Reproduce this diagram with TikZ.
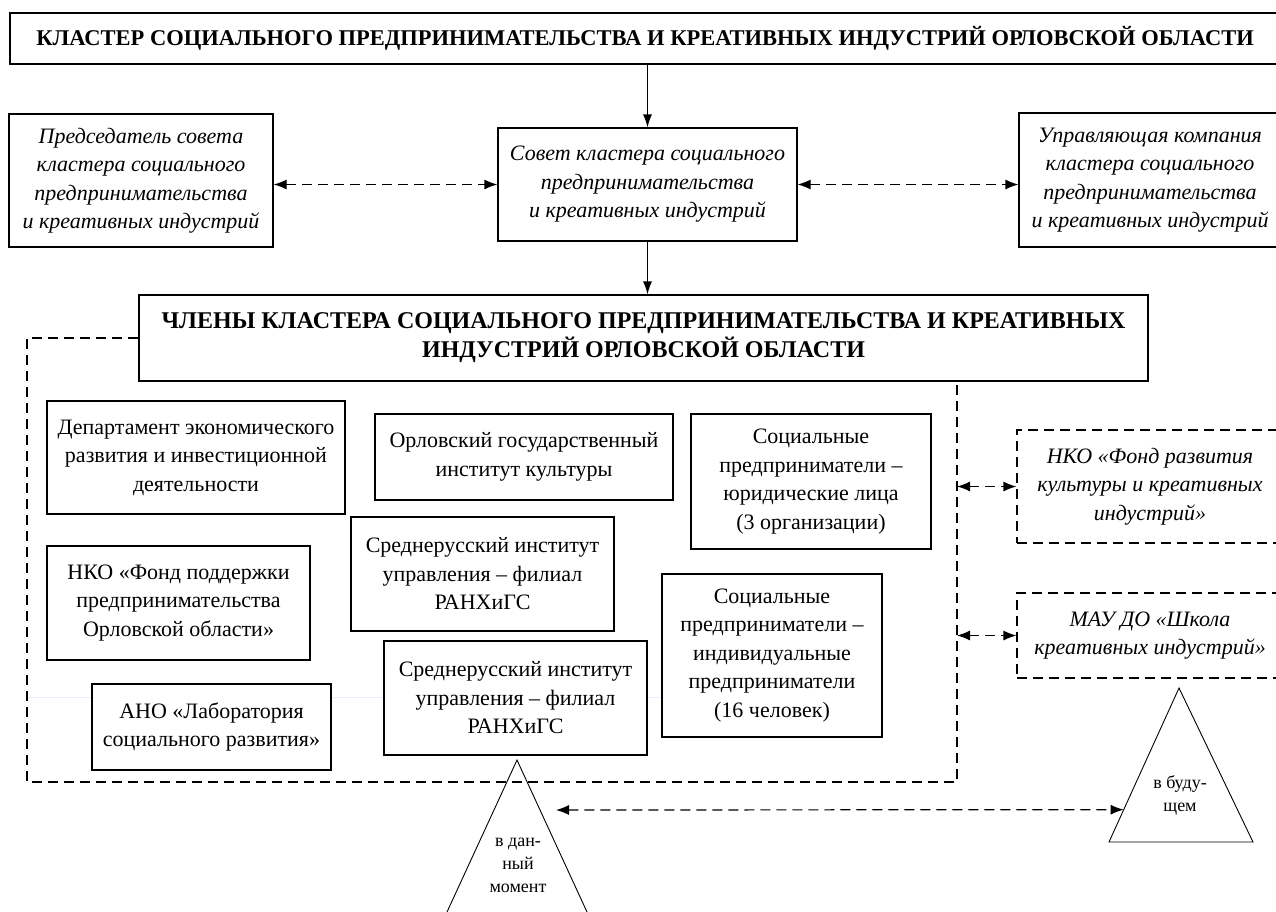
\documentclass[tikz,border=0pt]{standalone}
\usepackage{fontspec}
\setmainfont{Liberation Serif}
\usetikzlibrary{arrows.meta,calc}

\begin{document}
\begin{tikzpicture}[x=1pt,y=-1pt,
    box/.style={draw,fill=white,line width=1.2pt,align=center,inner sep=2pt,
      font=\fontsize{22}{28.5}\selectfont},
    ibox/.style={box,font=\fontsize{22}{28.5}\selectfont\itshape},
    dbox/.style={ibox,dash pattern=on 10pt off 6pt},
    hbox/.style={box,font=\fontsize{22.5}{29}\selectfont\bfseries},
    arr/.style={-{Latex[length=13pt,width=9pt]},line width=1.2pt},
    darr/.style={{Latex[length=13pt,width=10pt]}-{Latex[length=13pt,width=10pt]},
      line width=1.2pt,dash pattern=on 10pt off 6pt},
    frame/.style={line width=1.2pt,dash pattern=on 10pt off 6pt},
    tri/.style={line width=0.9pt},
    tritext/.style={align=center,font=\fontsize{18}{23}\selectfont}]
  \useasboundingbox (0,0) rectangle (1276,911);

  \node[hbox,minimum width=1270,minimum height=51] (klaster) at (645,38.5)
    {КЛАСТЕР СОЦИАЛЬНОГО ПРЕДПРИНИМАТЕЛЬСТВА И КРЕАТИВНЫХ ИНДУСТРИЙ ОРЛОВСКОЙ ОБЛАСТИ};
  \node[ibox,minimum width=264,minimum height=133] (pred) at (141,180.5)
    {Председатель совета\\кластера социального\\предпринимательства\\и креативных индустрий};
  \node[ibox,minimum width=299,minimum height=113] (sovet) at (647.5,184.5)
    {Совет кластера социального\\предпринимательства\\и креативных индустрий};
  \node[ibox,minimum width=262,minimum height=134] (upr) at (1150,180)
    {Управляющая компания\\кластера социального\\предпринимательства\\и креативных индустрий};
  \node[hbox,font=\fontsize{24}{29}\selectfont\bfseries,minimum width=1009,minimum height=86] (chleny) at (643.5,338)
    {ЧЛЕНЫ КЛАСТЕРА СОЦИАЛЬНОГО ПРЕДПРИНИМАТЕЛЬСТВА И КРЕАТИВНЫХ\\ИНДУСТРИЙ ОРЛОВСКОЙ ОБЛАСТИ};

  \coordinate (frameBL) at (27,782);
  \coordinate (frameR) at (957,782);
  \draw[blue!8,line width=1pt] (frameBL |- 0,697) -- (700,697);
  \draw[frame] (chleny.west) -| (frameBL) -- (frameR) -- (frameR |- chleny.south);

  \node[box,minimum width=298,minimum height=113] (dep) at (196,457.5)
    {Департамент экономического\\развития и инвестиционной\\деятельности};
  \node[box,minimum width=298,minimum height=86] (orl) at (524,457)
    {Орловский государственный\\институт культуры};
  \node[box,minimum width=240,minimum height=135] (socur) at (811,481.5)
    {Социальные\\предприниматели –\\юридические лица\\(3 организации)};
  \node[box,minimum width=263,minimum height=114] (nkopod) at (178.5,603)
    {НКО «Фонд поддержки\\предпринимательства\\Орловской области»};
  \node[box,minimum width=263,minimum height=114] (sred1) at (482.5,574)
    {Среднерусский институт\\управления – филиал\\РАНХиГС};
  \node[box,minimum width=263,minimum height=114] (sred2) at (515.5,698)
    {Среднерусский институт\\управления – филиал\\РАНХиГС};
  \node[box,minimum width=239,minimum height=86] (ano) at (211.5,727)
    {АНО «Лаборатория\\социального развития»};
  \node[box,minimum width=220,minimum height=163] (socip) at (772,655.5)
    {Социальные\\предприниматели –\\индивидуальные\\предприниматели\\(16 человек)};

  \node[dbox,minimum width=266,minimum height=113] (nkofond) at (1150,486.5)
    {НКО «Фонд развития\\культуры и креативных\\индустрий»};
  \node[dbox,minimum width=266,minimum height=85] (mau) at (1150,635.5)
    {МАУ ДО «Школа\\креативных индустрий»};

  \coordinate (nowtop) at (517,760);
  \coordinate (futtop) at (1179,688);
  \coordinate (futbl) at (1109,842);
  \draw[tri] (nowtop) -- (441,925) -- (593,925) -- cycle;
  \draw[tri] (futtop) -- (futbl) -- (1253,842) -- cycle;
  \node[tritext] (nowlbl) at (518,865) {в дан-\\ный\\момент};
  \node[tritext] (futlbl) at (1180,795) {в буду-\\щем};
  \coordinate (nowR) at (556,810);
  \coordinate (futL) at ($(futtop)!0.79!(futbl)$);

  \draw[arr] (klaster.south -| sovet.north) -- (sovet.north);
  \draw[arr] (sovet.south) -- (sovet.south |- chleny.north);
  \draw[darr] (sovet.west -| pred.east) -- (sovet.west);
  \draw[darr] (sovet.east) -- (sovet.east -| upr.west);
  \draw[darr] (nkofond.west -| frameR) -- (nkofond.west);
  \draw[darr] (mau.west -| frameR) -- (mau.west);
  \draw[darr] (nowR) -- (futL);
\end{tikzpicture}
\end{document}
